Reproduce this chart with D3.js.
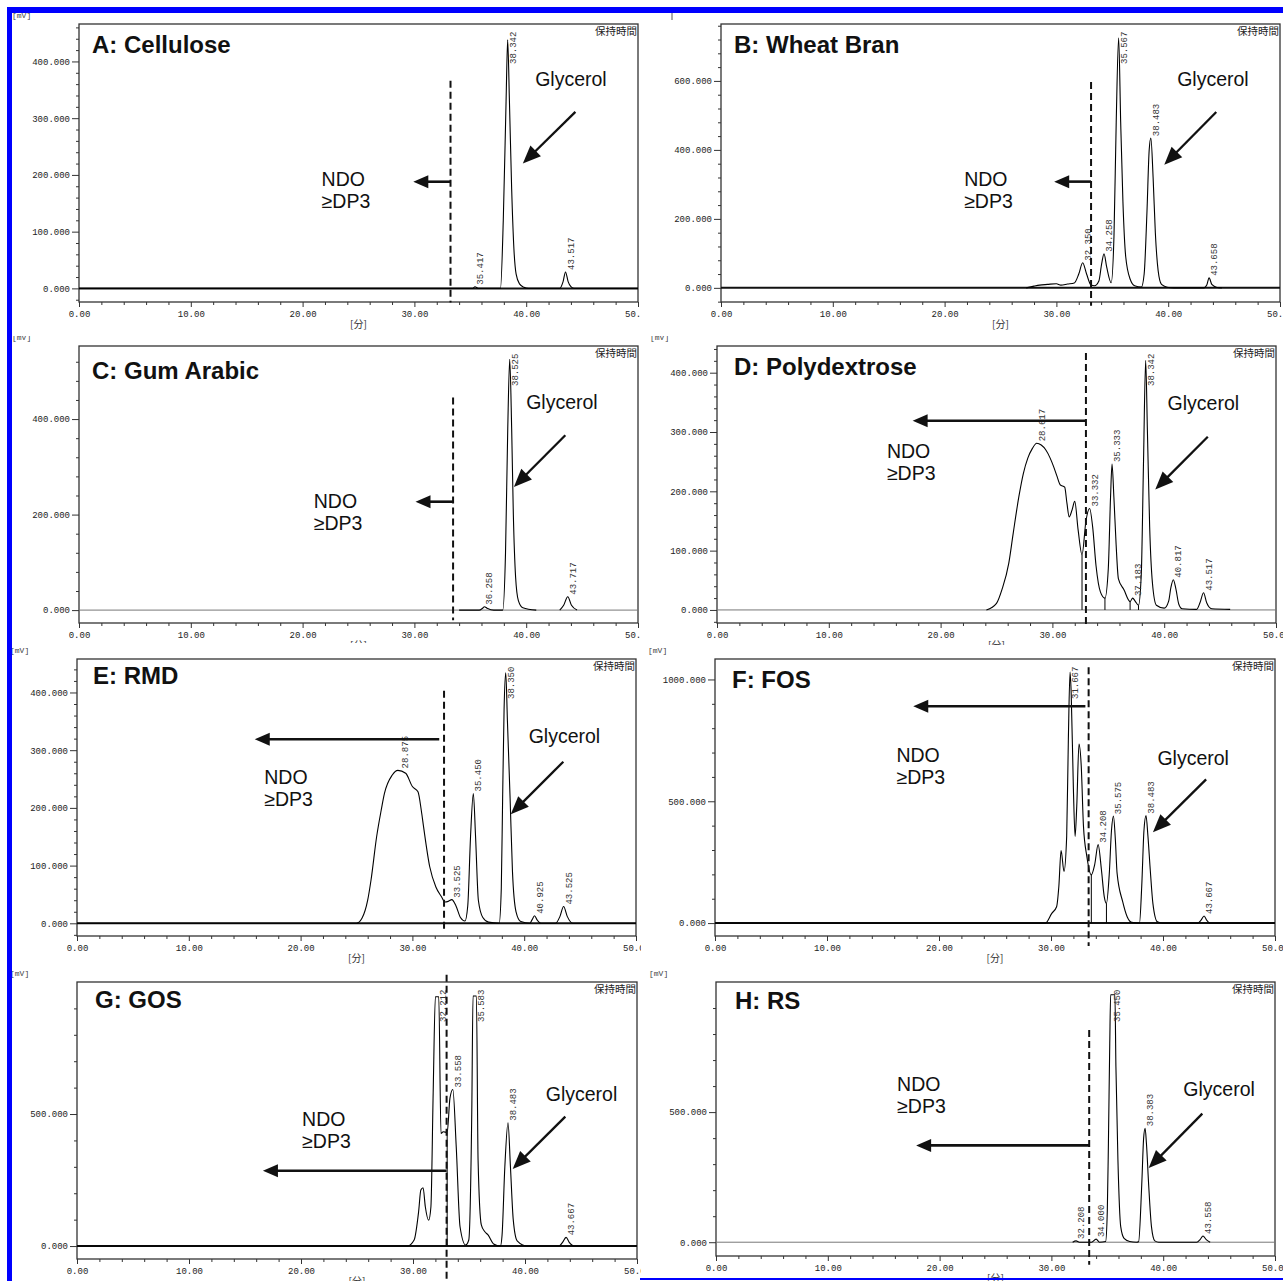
<!DOCTYPE html>
<html>
<head>
<meta charset="utf-8">
<script src="https://cdn.jsdelivr.net/npm/d3@7"></script>
<style>
  body { margin: 0; background: #fff; }
  .axis text { font-family: "Liberation Mono", "DejaVu Sans Mono", monospace; font-size: 9px; fill: #222; }
  .axis line { stroke: #333; stroke-width: 1; }
  .axis path { display: none; }
</style>
</head>
<body>
<div id="chart"></div>
<script>
// HPLC chromatograms of NDO fermentation residues, 8 panels
const width = 1283;
const height = 1281;

const titles = ["A: Cellulose", "B: Wheat Bran", "C: Gum Arabic", "D: Polydextrose",
                "E: RMD", "F: FOS", "G: GOS", "H: RS"];

// traces: [retention time (min), signal (mV)], null = gap in the trace
const traceA = [[0,0],[35.2,0],[35.42,3],[35.7,0],[37.7,0],[37.95,120],[38.2,330],[38.342,438],[38.5,330],[38.7,175],[38.9,70],[39.1,25],[39.4,8],[39.8,2],[40.2,0],[43.0,0],[43.3,12],[43.517,29],[43.75,12],[44.0,3],[44.3,0],[50,0]];
const traceB = [[27.3,0],[28.0,5],[28.5,8],[29.2,10],[30.0,12],[30.4,8],[31.0,11],[31.6,14],[32.0,40],[32.35,73],[32.7,40],[33.1,8],[33.4,6],[33.8,20],[34.05,70],[34.258,99],[34.5,60],[34.9,15],[35.15,150],[35.35,480],[35.567,725],[35.75,480],[35.95,250],[36.2,90],[36.6,25],[37.0,6],[37.6,2],[37.85,40],[38.1,220],[38.3,400],[38.45,434],[38.65,320],[38.85,160],[39.1,50],[39.4,10],[39.9,2],[40.5,0],[43.2,0],[43.45,8],[43.658,29],[43.9,10],[44.3,2],[44.8,0]];
const traceC = [[34.0,0],[35.8,0],[36.1,4],[36.258,7],[36.5,4],[37.1,0],[37.9,0],[38.15,120],[38.35,380],[38.525,525],[38.7,380],[38.85,200],[39.05,70],[39.3,20],[39.7,5],[40.9,0],null,[43.0,0],[43.35,10],[43.717,28],[44.05,10],[44.55,0]];
const traceD = [[24.1,0],[25.0,11],[25.5,35],[26.1,79],[26.5,130],[27.0,191],[27.4,230],[27.8,256],[28.2,272],[28.6,281],[29.0,278],[29.4,270],[29.8,256],[30.1,242],[30.4,226],[30.7,211],[31.1,207],[31.3,180],[31.5,157],[31.75,168],[32.0,183],[32.3,135],[32.65,93],[33.0,150],[33.33,171],[33.6,140],[33.9,75],[34.3,30],[34.7,20],[35.0,70],[35.2,190],[35.333,246],[35.5,190],[35.7,110],[35.9,53],[36.4,34],[36.95,14],[37.18,20],[37.4,15],[37.7,8],[37.95,60],[38.15,250],[38.342,421],[38.5,300],[38.7,140],[38.95,45],[39.3,8],[40.0,3],[40.4,15],[40.6,38],[40.817,51],[41.05,35],[41.3,10],[41.6,2],[42.9,1],[43.2,12],[43.517,29],[43.8,12],[44.25,2],[45.9,1]];
const traceE = [[0,0],[25.0,0],[25.5,9],[26.0,40],[26.3,75],[26.8,150],[27.2,195],[27.5,225],[28.2,257],[28.7,265],[29.4,260],[30.0,237],[30.5,228],[30.8,195],[31.0,167],[31.55,98],[32.1,63],[32.6,46],[32.9,37],[33.2,38],[33.525,41],[33.9,30],[34.3,10],[34.7,4],[34.95,30],[35.2,150],[35.45,225],[35.65,150],[35.9,40],[36.3,10],[36.8,2],[37.76,0],[37.95,60],[38.07,216],[38.2,370],[38.35,434],[38.5,350],[38.74,216],[38.95,90],[39.27,20],[39.7,3],[40.5,0],[40.7,6],[40.925,13],[41.15,6],[41.5,0],[42.8,0],[43.2,12],[43.525,29],[43.85,12],[44.35,0],[50,0]];
const traceF = [[0,0],[29.5,0],[30.07,40],[30.5,67],[30.7,150],[30.9,298],[31.16,212],[31.4,356],[31.55,755],[31.7,1030],[31.8,948],[32.0,550],[32.15,356],[32.3,480],[32.5,735],[32.7,645],[32.9,397],[33.2,274],[33.6,198],[33.9,240],[34.208,322],[34.5,220],[34.75,110],[34.95,81],[35.2,200],[35.4,380],[35.575,439],[35.75,340],[35.9,205],[36.4,88],[36.8,26],[37.2,3],[37.9,0],[38.1,150],[38.3,380],[38.483,441],[38.65,360],[38.86,220],[39.1,80],[39.5,5],[40.0,0],[43.1,0],[43.4,12],[43.667,29],[43.9,12],[44.2,0],[50,0]];
const traceG = [[0,0],[29.5,0],[30.1,23],[30.5,130],[30.7,212],[30.9,221],[31.1,149],[31.4,98],[31.6,149],[31.8,578],[32.0,944],[32.3,944],[32.5,426],[32.7,433],[33.05,430],[33.3,560],[33.558,593],[33.86,376],[34.2,73],[34.7,4],[34.98,23],[35.25,515],[35.36,947],[35.66,947],[35.81,326],[36.1,80],[36.4,55],[36.7,42],[37.2,8],[37.8,0],[37.95,40],[38.2,300],[38.483,467],[38.7,300],[38.95,100],[39.3,20],[40.2,0],[43.05,0],[43.35,14],[43.667,33],[43.95,14],[44.4,0],[50,0]];
const traceH = [[31.9,0],[32.208,5],[32.5,0],[33.6,0],[34.0,12],[34.3,0],[34.85,3],[35.0,120],[35.1,381],[35.22,765],[35.3,951],[35.68,951],[35.77,676],[35.95,317],[36.2,60],[36.5,15],[37.0,3],[37.6,0],[37.8,2],[38.08,220],[38.25,400],[38.383,438],[38.5,380],[38.7,220],[38.95,60],[39.25,5],[39.6,0],[43.0,0],[43.3,10],[43.558,24],[43.85,10],[44.2,0]];
const traces = [traceA, traceB, traceC, traceD, traceE, traceF, traceG, traceH];

// integration drop lines (retention times)
const dropTimes = [[], [], [], [32.65, 34.7, 36.95, 37.7], [], [33.6, 34.95], [33.05], []];

// peak retention time labels
const peakLabels = [
  ["35.417", "38.342", "43.517"],
  ["32.350", "34.258", "35.567", "38.483", "43.658"],
  ["36.258", "38.525", "43.717"],
  ["28.617", "33.332", "35.333", "37.183", "38.342", "40.817", "43.517"],
  ["28.875", "33.525", "35.450", "38.350", "40.925", "43.525"],
  ["31.667", "34.208", "35.575", "38.483", "43.667"],
  ["32.212", "33.558", "35.583", "38.483", "43.667"],
  ["32.208", "34.000", "35.450", "38.383", "43.558"]
];

// axis ranges and ticks
const yDomains = [[-24, 466], [-41, 765], [-27, 553], [-22, 445], [-22, 458], [-53, 1084], [-49, 1000], [-53, 1000]];
const yMajor = [[0,100,200,300,400], [0,200,400,600], [0,200,400], [0,100,200,300,400],
                [0,100,200,300,400], [0,500,1000], [0,500], [0,500]];
const yMinorStep = [20, 40, 40, 20, 20, 100, 100, 100];
const xMajor = [0, 10, 20, 30, 40, 50];

// DP3 cut-off: [time, top mV, bottom mV]
const cutoffs = [[33.23,366,-25], [33.1,597,-52], [33.46,445,-21], [33.0,433,-25],
                 [32.83,403,-14], [33.36,1050,-94], [33.0,1027,-129], [33.38,816,-87]];
// "NDO ≥DP3" text anchor [time, mV]
const ndoText = [[21.7,181], [21.75,296], [21.0,213], [15.2,256], [16.75,241], [16.2,662], [20.1,455], [16.2,583]];
// NDO arrow [mV, tip time, start time]
const ndoArrow = [[188,29.9,33.23], [308,29.8,33.1], [227,30.1,33.46], [319,17.5,33.0],
                  [319,15.9,32.4], [890,17.7,33.07], [285,16.6,33.0], [372,17.9,33.38]];
// "Glycerol" text anchor [time, mV]
const glyText = [[40.8,357], [40.8,585], [40.0,421], [40.3,337], [40.4,312], [39.5,648], [41.85,550], [41.8,560]];
// glycerol arrow [[start time, mV], [tip time, mV]]
const glyArrow = [[[44.4,311],[39.7,220]], [[44.3,510],[39.65,357]], [[43.5,366],[38.9,258]], [[43.9,292],[39.2,203]],
                  [[43.5,280],[38.8,189]], [[43.85,590],[39.1,373]], [[43.6,490],[38.9,292]], [[43.5,494],[38.7,285]]];

// layout: plot boxes [x0, x1, y0, y1] and clip regions
const boxes = [[79,638,24,302], [721,1280,24,302], [79,638,346,623], [717,1276,346,623],
               [77,636,659,936], [715,1275,659,936], [77,637,982,1259], [716,1275,982,1256]];
const clips = [[0,660,0,336], [641,1283,0,336], [0,645,336,643], [641,1283,336,645],
               [0,645,643,968], [641,1283,645,968], [0,645,968,1281], [641,1283,968,1281]];
const titleOffsets = [[13,29], [13,29], [13,33], [17,29], [16,25], [17,29], [18,26], [19,27]];
const thickZero = [true, true, false, false, true, true, true, false];

const svg = d3.select("#chart")
  .append("svg")
  .attr("width", width)
  .attr("height", height)
  .attr("viewBox", [0, 0, width, height]);

svg.append("rect").attr("width", width).attr("height", height).attr("fill", "#fff");

const defs = svg.append("defs");

titles.forEach((title, i) => {
  const [bx0, bx1, by0, by1] = boxes[i];
  const [cx0, cx1, cy0, cy1] = clips[i];

  defs.append("clipPath").attr("id", "clip" + i)
    .append("rect")
    .attr("x", cx0).attr("y", cy0)
    .attr("width", cx1 - cx0).attr("height", cy1 - cy0);

  const g = svg.append("g").attr("clip-path", `url(#clip${i})`);

  // white panel background (covers bits of the panel before it)
  g.append("rect")
    .attr("x", cx0).attr("y", cy0)
    .attr("width", cx1 - cx0).attr("height", cy1 - cy0)
    .attr("fill", "#fff");

  const x = d3.scaleLinear().domain([0, 50]).range([bx0, bx1]);
  const y = d3.scaleLinear().domain(yDomains[i]).range([by1, by0]);

  // y axis, major + minor ticks
  const [ymin, ymax] = yDomains[i];
  const step = yMinorStep[i];
  const yMinor = d3.range(Math.ceil(ymin / step) * step, ymax - 1e-6, step)
    .filter(v => !yMajor[i].includes(v));

  g.append("g").attr("class", "axis")
    .attr("transform", `translate(${bx0},0)`)
    .call(d3.axisLeft(y).tickValues(yMinor).tickSize(3).tickFormat(""));
  g.append("g").attr("class", "axis")
    .attr("transform", `translate(${bx0},0)`)
    .call(d3.axisLeft(y).tickValues(yMajor[i]).tickSize(7).tickPadding(2).tickFormat(d3.format(".3f")));

  // x axis
  const xMinor = d3.range(0, 51, 2).filter(v => v % 10 !== 0);
  g.append("g").attr("class", "axis")
    .attr("transform", `translate(0,${by1})`)
    .call(d3.axisBottom(x).tickValues(xMinor).tickSize(3).tickFormat(""));
  g.append("g").attr("class", "axis")
    .attr("transform", `translate(0,${by1})`)
    .call(d3.axisBottom(x).tickValues(xMajor).tickSize(5).tickPadding(4).tickFormat(d3.format(".2f")));

  g.append("text")
    .attr("x", (bx0 + bx1) / 2)
    .attr("y", by1 + 26)
    .attr("text-anchor", "middle")
    .attr("font-family", "Noto Sans CJK JP")
    .attr("font-size", "10px")
    .attr("fill", "#333")
    .text("[分]");

  if (i !== 1) {
    g.append("text")
      .attr("x", bx0 - 67)
      .attr("y", by0 - 6)
      .attr("font-family", "Liberation Mono")
      .attr("font-size", "8px")
      .attr("fill", "#444")
      .text("[mV]");
  }

  // plot frame
  g.append("rect")
    .attr("x", bx0).attr("y", by0)
    .attr("width", bx1 - bx0).attr("height", by1 - by0)
    .attr("fill", "none")
    .attr("stroke", "#333")
    .attr("stroke-width", 1.3);

  // zero line
  g.append("line")
    .attr("x1", bx0).attr("x2", bx1)
    .attr("y1", y(0)).attr("y2", y(0))
    .attr("stroke", thickZero[i] ? "#111" : "#777")
    .attr("stroke-width", thickZero[i] ? 2 : 1);

  g.append("text")
    .attr("x", bx1 - 1)
    .attr("y", by0 + 11)
    .attr("text-anchor", "end")
    .attr("font-family", "Noto Sans CJK JP")
    .attr("font-size", "10.5px")
    .attr("fill", "#222")
    .text("保持時間");

  // chromatogram trace
  const line = d3.line()
    .defined(d => d !== null)
    .x(d => x(d[0]))
    .y(d => y(d[1]))
    .curve(d3.curveMonotoneX);

  g.append("path")
    .datum(traces[i])
    .attr("d", line)
    .attr("fill", "none")
    .attr("stroke", "#000")
    .attr("stroke-width", 1.1);

  // drop lines
  dropTimes[i].forEach(t => {
    const pt = traces[i].find(d => d && Math.abs(d[0] - t) < 1e-6);
    if (!pt) return;
    g.append("line")
      .attr("x1", x(t)).attr("x2", x(t))
      .attr("y1", y(pt[1])).attr("y2", y(0))
      .attr("stroke", "#000")
      .attr("stroke-width", 1);
  });

  // peak labels, rotated, starting at the apex
  peakLabels[i].forEach(label => {
    const t = +label;
    const near = traces[i].filter(d => d && Math.abs(d[0] - t) <= 0.35);
    const vmax = d3.max(near, d => d[1]) || 0;
    const px = x(t) + 8;
    const py = Math.max(y(vmax) - 2, by0 + 40);
    g.append("text")
      .attr("transform", `translate(${px},${py}) rotate(-90)`)
      .attr("font-family", "Liberation Mono")
      .attr("font-size", "9px")
      .attr("fill", "#333")
      .text(label);
  });

  // title
  g.append("text")
    .attr("x", bx0 + titleOffsets[i][0])
    .attr("y", by0 + titleOffsets[i][1])
    .attr("font-family", "Liberation Sans")
    .attr("font-weight", "bold")
    .attr("font-size", "24px")
    .attr("fill", "#111")
    .text(title);

  // DP3 cut-off
  const [ct, ctop, cbot] = cutoffs[i];
  g.append("line")
    .attr("x1", x(ct)).attr("x2", x(ct))
    .attr("y1", y(ctop)).attr("y2", y(cbot))
    .attr("stroke", "#111")
    .attr("stroke-width", 2)
    .attr("stroke-dasharray", "7,4");

  // NDO label + arrow
  const ndo = g.append("text")
    .attr("font-family", "Liberation Sans")
    .attr("font-size", "19.5px")
    .attr("fill", "#111");
  ndo.append("tspan").attr("x", x(ndoText[i][0])).attr("y", y(ndoText[i][1])).text("NDO");
  ndo.append("tspan").attr("x", x(ndoText[i][0])).attr("y", y(ndoText[i][1]) + 22).text("≥DP3");

  const [av, atip, astart] = ndoArrow[i];
  const ay = y(av), xt = x(atip);
  g.append("line")
    .attr("x1", x(astart)).attr("x2", xt + 12)
    .attr("y1", ay).attr("y2", ay)
    .attr("stroke", "#111")
    .attr("stroke-width", 2.6);
  g.append("path")
    .attr("d", `M${xt},${ay}L${xt + 15},${ay - 6.5}L${xt + 15},${ay + 6.5}Z`)
    .attr("fill", "#111");

  // Glycerol label + arrow
  g.append("text")
    .attr("x", x(glyText[i][0]))
    .attr("y", y(glyText[i][1]))
    .attr("font-family", "Liberation Sans")
    .attr("font-size", "19.5px")
    .attr("fill", "#111")
    .text("Glycerol");

  const [[gt0, gv0], [gt1, gv1]] = glyArrow[i];
  const sx = x(gt0), sy = y(gv0), tx = x(gt1), ty = y(gv1);
  const len = Math.hypot(tx - sx, ty - sy);
  const ux = (tx - sx) / len, uy = (ty - sy) / len;
  const hl = 18, hw = 7.5;
  const bxh = tx - ux * hl, byh = ty - uy * hl;
  g.append("line")
    .attr("x1", sx).attr("y1", sy)
    .attr("x2", tx - ux * (hl - 3)).attr("y2", ty - uy * (hl - 3))
    .attr("stroke", "#111")
    .attr("stroke-width", 2.3);
  g.append("path")
    .attr("d", `M${tx},${ty}L${bxh - uy * hw},${byh + ux * hw}L${bxh + uy * hw},${byh - ux * hw}Z`)
    .attr("fill", "#111");
});

// small leftover tick above panel B
svg.append("line")
  .attr("x1", 672).attr("x2", 672).attr("y1", 13).attr("y2", 20)
  .attr("stroke", "#555").attr("stroke-width", 1);

// blue frame of the figure
svg.append("rect").attr("x", 7).attr("y", 7).attr("width", width - 7).attr("height", 6).attr("fill", "#0000ff");
svg.append("rect").attr("x", 7).attr("y", 7).attr("width", 5).attr("height", height - 7).attr("fill", "#0000ff");
svg.append("rect").attr("x", 640).attr("y", 1278).attr("width", width - 640).attr("height", 2).attr("fill", "#0000ff");
</script>
</body>
</html>
